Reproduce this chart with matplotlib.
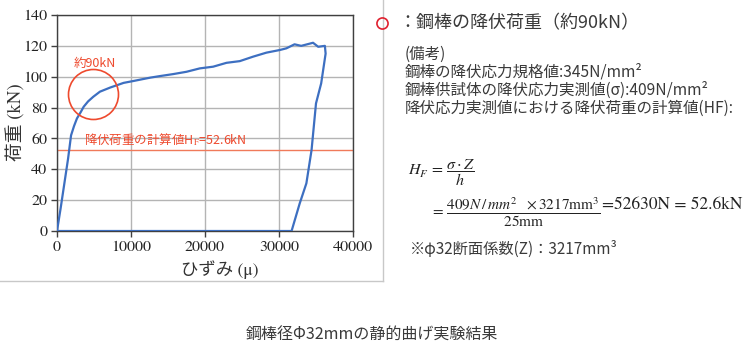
import matplotlib
matplotlib.use("Agg")
import matplotlib.pyplot as plt
from matplotlib.lines import Line2D

plt.rcParams['font.family'] = ['Noto Sans CJK JP', 'DejaVu Sans']
plt.rcParams['mathtext.fontset'] = 'stix'

# ひずみ-荷重曲線
strain = [0, 500, 1000, 1500, 1900, 2300, 2700, 3200, 3600, 4200, 4900, 5800,
          7200, 9000, 10300, 12600, 13900, 15700, 17500, 19300, 21100, 22900,
          24700, 26500, 28300, 30100, 31000, 32100, 33000, 34600, 35300, 36200,
          36300, 35700, 35000, 34400, 33700, 32800, 31700, 0]
load = [0, 15, 31, 47, 62, 68, 73, 77, 80.5, 84, 87, 90.3,
        93, 96, 97.2, 99.4, 100.4, 101.7, 103.2, 105.4, 106.5, 109,
        110.1, 113, 115.6, 117.3, 118.4, 121, 120, 122, 119.4, 120,
        115, 95.7, 82.7, 52.5, 30.9, 17.9, 0, 0]

hf_value = 52.6
circle_x, circle_y = 4800, 89
x_ticks = [0, 10000, 20000, 30000, 40000]
y_ticks = [0, 20, 40, 60, 80, 100, 120, 140]

W, H = 750, 352
BLUE = '#3d6fc1'
RED = '#ee4a2e'
TXT = '#3a3a3a'
SERIF = ['STIXGeneral', 'Noto Sans CJK JP']


def fx(px):
    return px / W


def fy(py):
    return 1 - py / H


fig = plt.figure(figsize=(W / 100, H / 100), dpi=100)
ax = fig.add_axes([fx(57), fy(231), (353 - 57) / W, (231 - 15) / H])

ax.plot(strain, load, color=BLUE, lw=1.6, zorder=3)
ax.axhline(hf_value, color='#f07a5a', lw=1.0, zorder=2)
ax.plot(circle_x, circle_y, 'o', ms=36, mfc='none', mec=RED, mew=1.2, zorder=4)
ax.text(2250, 108.5, '約90kN', color=RED, fontsize=9, va='center', ha='left')
ax.text(3700, hf_value + 1.2, '降伏荷重の計算値H$_\\mathrm{F}$=52.6kN', color=RED,
        fontsize=9, va='bottom', ha='left')

ax.set_xlim(0, 40000)
ax.set_ylim(0, 140)
ax.set_xticks(x_ticks)
ax.set_yticks(y_ticks)
ax.grid(True, color='#b4b4b4', lw=1.0)
ax.set_axisbelow(True)
for s in ax.spines.values():
    s.set_color('#404040')
    s.set_linewidth(1.0)
ax.tick_params(direction='out', length=4, width=1, color='#404040', labelsize=11.5, pad=3,
               labelcolor='#222222', labelfontfamily='STIXGeneral')

fig.text(fx(16), fy(122), '荷重 (kN)', rotation=90, ha='center', va='center',
         fontsize=13.5, color='#333333', family=SERIF)
fig.text(fx(220), fy(270), 'ひずみ (μ)', ha='center', va='center',
         fontsize=12.5, color='#333333', family=SERIF)

# グラフ枠
fig.add_artist(Line2D([fx(383), fx(383)], [fy(0), fy(281)], color='#c8c8c8', lw=1))
fig.add_artist(Line2D([fx(0), fx(383)], [fy(281), fy(281)], color='#c8c8c8', lw=1))

# 右側の説明
fig.add_artist(Line2D([fx(382)], [fy(23)], marker='o', ms=8, mfc='none', mec='#e0202e', mew=1.2))
fig.text(fx(398), fy(23), '：鋼棒の降伏荷重（約90kN）', fontsize=13, color=TXT, va='center', ha='left')

notes = ['(備考)',
         '鋼棒の降伏応力規格値:345N/mm²',
         '鋼棒供試体の降伏応力実測値(σ):409N/mm²',
         '降伏応力実測値における降伏荷重の計算値(HF):']
for i, line in enumerate(notes):
    fig.text(fx(405), fy(54 + i * 18), line, fontsize=11.2, color=TXT, va='center', ha='left')

fig.text(fx(408), fy(173), r'$H_F\,=\,\dfrac{\sigma\cdot Z}{h}$', fontsize=11.5,
         color='#222222', va='center', ha='left', family='STIXGeneral')
fig.text(fx(430), fy(212),
         r'$=\,\dfrac{409N\,/\,mm^2\ \ \times 3217\mathrm{mm}^3}{\mathrm{25mm}}$',
         fontsize=11, color='#222222', va='center', ha='left', family='STIXGeneral')
fig.text(fx(602), fy(205), '=52630N = 52.6kN', fontsize=12.5, color='#222222',
         va='center', ha='left', family='STIXGeneral')

fig.text(fx(410), fy(249), '※φ32断面係数(Z)：3217mm³', fontsize=11, color=TXT,
         va='center', ha='left')

fig.text(fx(372), fy(335), '鋼棒径Φ32mmの静的曲げ実験結果', fontsize=11.5, color=TXT,
         va='center', ha='center')

fig.savefig('out.png', dpi=100)
